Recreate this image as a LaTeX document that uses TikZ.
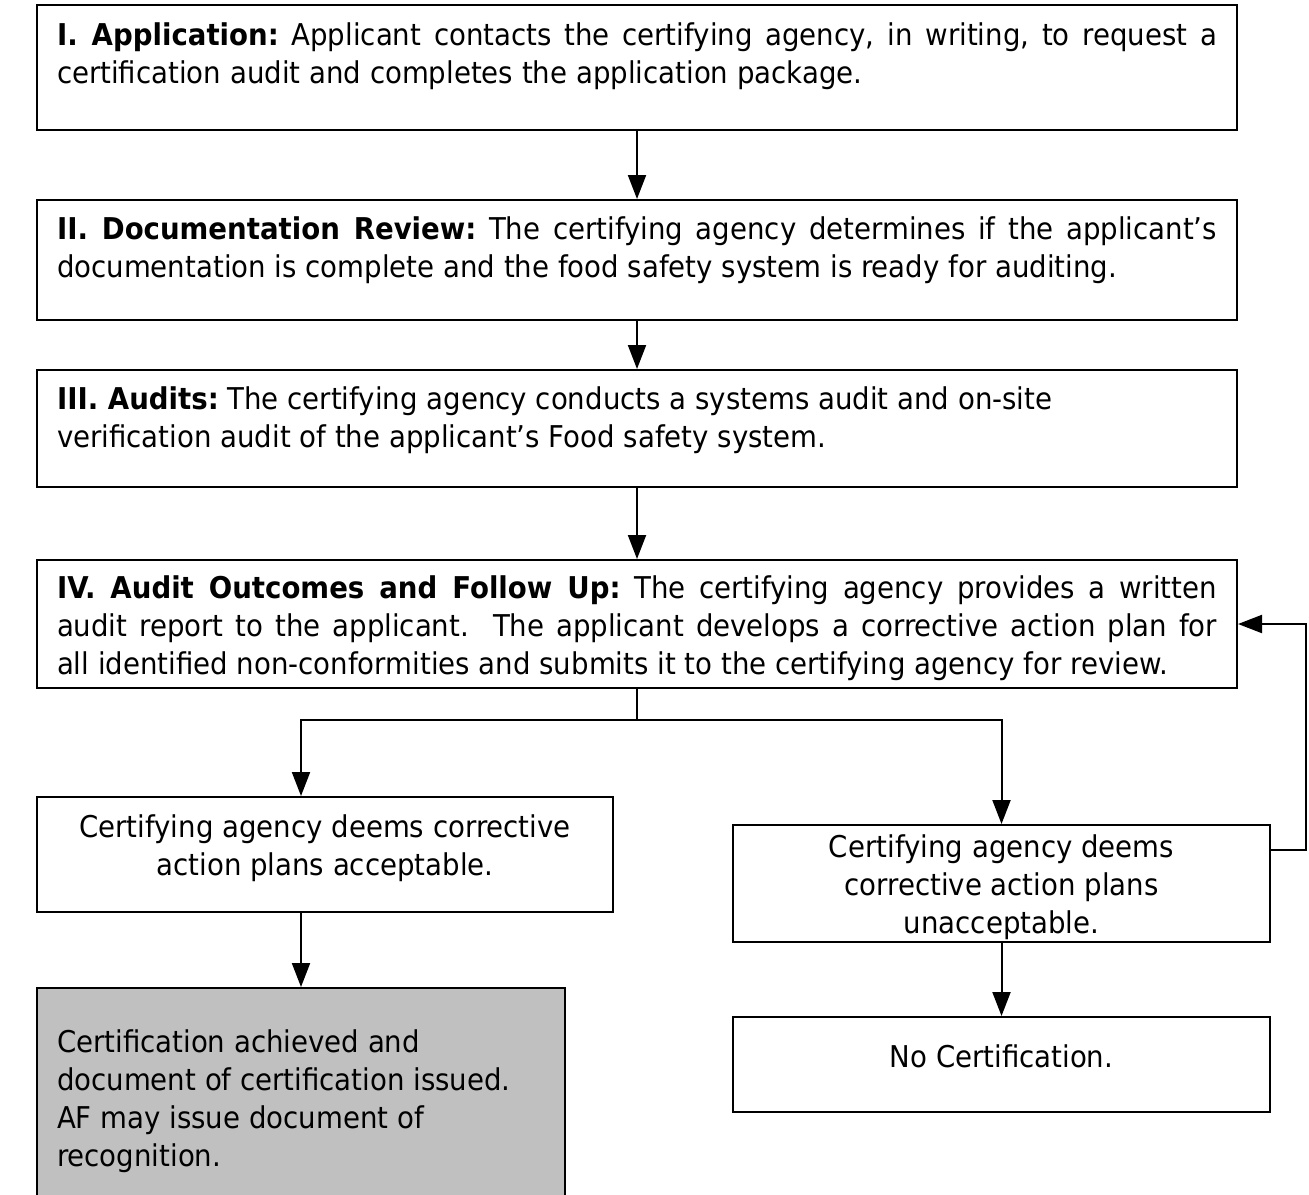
\documentclass[tikz,border=0pt]{standalone}
\usepackage{fontspec}
\setmainfont{DejaVu Sans}[FakeStretch=0.92]
\usetikzlibrary{arrows.meta,positioning}
\definecolor{certgray}{HTML}{C0C0C0}
\frenchspacing
\tikzset{
  stepbox/.style={draw, line width=1pt, inner sep=0pt, fill=white},
  arr/.style={line width=1pt, -{Triangle[width=9pt,length=12pt]}},
  link/.style={line width=1pt},
}
\begin{document}
\begin{tikzpicture}[x=0.5pt,y=-0.5pt, font=\fontsize{15}{19}\selectfont]
  \clip (0,0) rectangle (1309,1194);
  \fill[white] (0,0) rectangle (1309,1194);
  % main steps
  \node[stepbox, minimum width=600pt, minimum height=62.5pt] (app) at (637,67.5)
    {\parbox[c][45pt][t]{580pt}{\textbf{I. Application:} Applicant contacts the certifying agency, in writing, to request a\linebreak certification audit and completes the application package.}};
  \node[stepbox, minimum width=600pt, minimum height=60pt] (doc) at (637,260)
    {\parbox[c][43pt][t]{580pt}{\textbf{II. Documentation Review:} The certifying agency determines if the applicant’s\linebreak documentation is complete and the food safety system is ready for auditing.}};
  \node[stepbox, minimum width=600pt, minimum height=58.5pt] (aud) at (637,428.5)
    {\parbox[c][41.5pt][t]{580pt}{\textbf{III. Audits:} The certifying agency conducts a systems audit and on-site\\ verification audit of the applicant’s Food safety system.}};
  \node[stepbox, minimum width=600pt, minimum height=64pt] (outc) at (637,624)
    {\parbox[c][48pt][t]{580pt}{\textbf{IV. Audit Outcomes and Follow Up:} The certifying agency provides a written\linebreak audit report to the applicant.\ \ The applicant develops a corrective action plan for\linebreak all identified non-conformities and submits it to the certifying agency for review.}};
  % outcomes
  \node[stepbox, minimum width=288pt, minimum height=57.5pt] (acc) at (325,854.5)
    {\parbox[c][39.5pt][t]{268pt}{\centering Certifying agency deems corrective\\ action plans acceptable.}};
  \node[stepbox, minimum width=268.5pt, minimum height=58.5pt] (rej) at (1001.5,883.5)
    {\parbox[c][48.5pt][t]{250pt}{\centering Certifying agency deems\\ corrective action plans\\ unacceptable.}};
  \node[stepbox, fill=certgray, minimum width=264pt, minimum height=111pt] (gray) at (301,1099)
    {\parbox[c][69pt][t]{244pt}{\raggedright Certification achieved and\\ document of certification issued.\\ AF may issue document of\\ recognition.}};
  \node[stepbox, minimum width=268.5pt, minimum height=47.5pt] (nocert) at (1001.5,1064.5)
    {\parbox[c][19.5pt][t]{250pt}{\centering No Certification.}};
  % connectors
  \draw[arr] (app) -- (doc);
  \draw[arr] (doc) -- (aud);
  \draw[arr] (aud) -- (outc);
  \draw[link] (outc) -- ++(0,96) coordinate (split);
  \draw[arr] (split) -| (acc.north -| gray.north);
  \draw[arr] (split) -| (rej.north);
  \draw[arr] (acc.south -| gray.north) -- (gray.north);
  \draw[arr] (rej) -- (nocert);
  \draw[arr] ([yshift=-13pt]rej.north east) -- ++(17.5pt,0) |- (outc.east);
\end{tikzpicture}
\end{document}
